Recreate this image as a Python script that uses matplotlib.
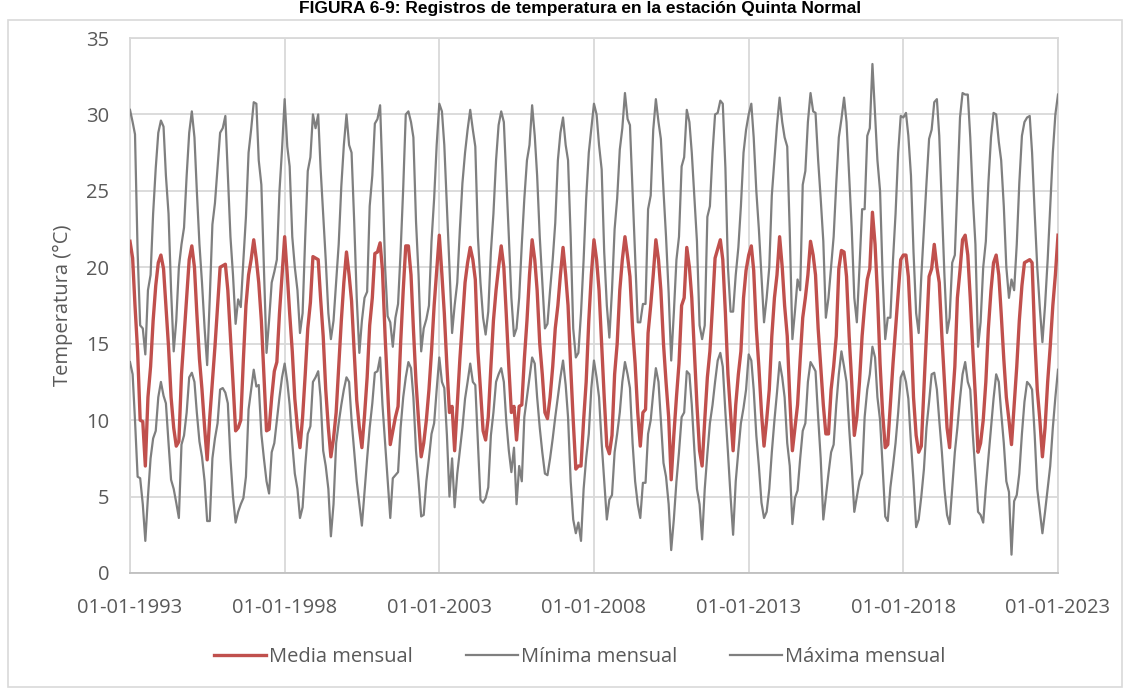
import numpy as np
import pandas as pd
import matplotlib
matplotlib.use("Agg")
import matplotlib.pyplot as plt
import matplotlib.dates as mdates
from matplotlib.patches import Rectangle
from datetime import datetime

# monthly values, one row per year (Jan..Dec), plus Jan 2023
media = [
    [21.7, 20.6, 17.5, 14.5, 10.0, 9.9, 7.0, 11.5, 13.5, 16.5, 18.8, 20.3],  # 1993
    [20.8, 19.9, 17.5, 14.8, 11.5, 9.5, 8.3, 8.6, 13.0, 15.5, 18.0, 20.5],
    [21.4, 20.0, 17.0, 14.0, 12.0, 9.5, 7.4, 10.2, 12.5, 14.8, 17.5, 20.0],
    [20.1, 20.2, 18.5, 15.5, 12.5, 9.3, 9.5, 10.0, 14.0, 17.5, 19.5, 20.5],
    [21.8, 20.5, 19.0, 16.5, 13.0, 9.3, 9.4, 11.5, 13.2, 13.8, 17.0, 19.5],
    [22.0, 19.5, 17.0, 14.5, 11.4, 9.5, 8.2, 10.2, 13.0, 16.0, 17.7, 20.7],  # 1998
    [20.6, 20.5, 18.0, 15.5, 12.0, 9.5, 7.6, 8.8, 10.5, 13.5, 16.5, 19.0],
    [21.0, 19.5, 17.8, 14.5, 11.3, 9.5, 8.2, 10.3, 12.8, 16.2, 18.0, 20.9],
    [21.0, 21.6, 19.8, 15.5, 12.0, 8.4, 9.3, 10.2, 10.9, 15.0, 18.5, 21.4],
    [21.4, 19.5, 16.0, 12.5, 10.0, 7.6, 8.5, 10.0, 12.0, 14.5, 17.5, 19.8],
    [22.1, 19.5, 17.0, 13.5, 10.5, 10.9, 8.0, 11.0, 14.0, 16.5, 19.0, 20.3],  # 2003
    [21.3, 20.5, 19.2, 14.5, 12.0, 9.3, 8.7, 10.2, 13.5, 16.5, 18.5, 20.0],
    [21.4, 20.0, 17.0, 13.5, 10.5, 10.9, 8.7, 10.9, 11.0, 14.0, 16.5, 19.5],
    [21.8, 20.5, 18.5, 15.0, 13.0, 10.5, 10.1, 11.5, 13.5, 16.0, 17.5, 19.5],
    [21.3, 19.5, 17.5, 13.5, 10.0, 6.8, 7.0, 7.0, 10.0, 12.5, 16.5, 19.5],
    [21.8, 20.5, 18.5, 15.0, 11.5, 8.3, 7.8, 9.0, 13.0, 15.0, 18.5, 20.5],  # 2008
    [22.0, 20.7, 19.4, 16.0, 13.7, 10.5, 8.3, 10.5, 10.7, 15.7, 17.5, 19.5],
    [21.8, 20.5, 18.5, 15.0, 12.5, 10.2, 6.1, 9.0, 11.5, 13.7, 17.5, 18.0],
    [21.3, 20.0, 18.0, 14.5, 11.0, 8.0, 7.0, 10.0, 12.8, 14.5, 17.5, 20.6],
    [21.2, 21.8, 20.5, 17.0, 13.0, 10.5, 8.0, 11.0, 13.0, 14.5, 18.0, 19.8],
    [20.8, 21.4, 19.8, 16.0, 13.5, 10.5, 8.3, 10.0, 12.0, 15.5, 18.0, 19.5],  # 2013
    [22.0, 20.0, 17.5, 15.5, 11.5, 8.0, 9.5, 11.0, 14.0, 16.7, 18.0, 19.5],
    [21.7, 20.8, 19.5, 16.0, 13.5, 11.0, 9.1, 9.1, 12.0, 13.5, 15.5, 19.9],
    [21.1, 21.0, 19.4, 15.5, 12.5, 9.0, 10.2, 12.5, 15.5, 17.5, 19.2, 19.9],
    [23.6, 21.5, 18.3, 13.7, 10.5, 8.2, 8.4, 11.0, 13.7, 16.0, 18.3, 20.5],
    [20.8, 20.8, 19.4, 15.8, 11.5, 9.0, 7.9, 8.3, 12.0, 15.5, 19.4, 19.9],  # 2018
    [21.5, 20.0, 19.0, 15.5, 12.5, 9.5, 8.2, 11.0, 13.5, 18.0, 19.8, 21.8],
    [22.1, 20.8, 18.0, 14.5, 11.5, 7.9, 8.5, 10.0, 12.5, 16.0, 18.5, 20.3],
    [20.8, 19.5, 17.0, 14.0, 11.5, 10.0, 8.4, 11.0, 13.5, 16.5, 18.8, 20.3],
    [20.4, 20.5, 20.3, 15.5, 12.0, 10.0, 7.6, 9.5, 12.5, 14.8, 17.5, 19.5],  # 2022
    [22.1],
]

minima = [
    [13.8, 13.0, 10.0, 6.3, 6.2, 4.5, 2.1, 5.0, 7.5, 8.8, 9.3, 11.5],  # 1993
    [12.5, 11.6, 11.1, 8.5, 6.1, 5.5, 4.6, 3.6, 8.4, 9.0, 10.5, 12.8],
    [13.1, 12.5, 10.5, 8.6, 7.6, 6.0, 3.4, 3.4, 7.5, 8.8, 9.8, 12.0],
    [12.1, 11.8, 11.1, 7.5, 5.0, 3.3, 4.0, 4.5, 4.9, 6.3, 10.7, 12.0],
    [13.3, 12.2, 12.3, 9.1, 7.5, 6.0, 5.2, 7.9, 8.5, 10.0, 11.5, 12.8],
    [13.7, 12.5, 11.0, 8.5, 6.5, 5.5, 3.6, 4.3, 7.0, 9.1, 9.6, 12.5],  # 1998
    [12.8, 13.2, 11.5, 8.0, 7.0, 5.5, 2.4, 4.5, 8.5, 9.8, 11.0, 12.0],
    [12.8, 12.5, 10.0, 8.0, 6.0, 4.5, 3.1, 5.3, 7.5, 9.5, 11.1, 13.1],
    [13.2, 14.1, 11.0, 8.5, 6.0, 3.6, 6.2, 6.4, 6.6, 9.5, 11.5, 12.8],
    [13.8, 13.4, 11.5, 8.0, 6.0, 3.7, 3.8, 6.0, 7.5, 9.1, 9.8, 12.0],
    [14.1, 12.5, 12.1, 9.0, 5.0, 7.5, 4.3, 6.5, 8.0, 9.5, 11.4, 12.5],  # 2003
    [13.7, 12.5, 12.3, 8.5, 4.8, 4.6, 4.9, 5.6, 9.0, 10.5, 12.5, 13.0],
    [13.4, 12.5, 10.0, 8.0, 6.6, 8.2, 4.5, 7.0, 6.0, 10.2, 11.5, 12.8],
    [14.1, 13.7, 11.5, 9.5, 7.9, 6.5, 6.4, 7.5, 8.8, 10.2, 11.5, 12.8],
    [13.9, 12.3, 10.2, 6.0, 3.5, 2.6, 3.3, 2.1, 5.5, 7.5, 9.1, 12.1],
    [13.9, 12.8, 11.5, 8.5, 6.0, 3.5, 4.8, 5.1, 7.9, 9.1, 10.5, 12.5],  # 2008
    [13.8, 13.0, 12.1, 8.5, 6.0, 4.5, 3.6, 5.9, 5.9, 9.1, 10.0, 11.8],
    [13.4, 12.5, 10.0, 7.2, 6.3, 4.5, 1.5, 3.5, 6.0, 7.9, 10.2, 10.5],
    [13.2, 13.0, 11.0, 8.0, 5.5, 4.5, 2.2, 5.5, 7.8, 9.8, 11.0, 12.5],
    [13.9, 14.4, 13.5, 10.5, 7.9, 5.0, 2.5, 6.0, 8.0, 9.8, 10.8, 12.0],
    [14.3, 13.9, 12.0, 9.0, 7.0, 4.6, 3.6, 4.0, 5.5, 7.9, 10.0, 11.8],  # 2013
    [13.8, 12.8, 11.5, 8.5, 7.0, 3.2, 4.9, 5.4, 7.5, 9.3, 9.8, 12.5],
    [13.8, 13.5, 13.2, 10.2, 7.5, 3.5, 5.0, 6.5, 7.9, 8.4, 11.0, 13.0],
    [14.5, 13.5, 12.5, 9.5, 7.0, 4.0, 5.0, 6.0, 6.5, 10.2, 12.0, 13.0],
    [14.8, 14.1, 11.5, 10.0, 7.0, 3.7, 3.4, 5.6, 7.0, 8.5, 10.5, 12.8],
    [13.2, 12.5, 11.4, 8.5, 6.0, 3.0, 3.5, 5.0, 6.8, 9.5, 11.2, 13.0],  # 2018
    [13.1, 12.0, 10.0, 7.9, 5.5, 3.8, 3.2, 5.6, 7.9, 9.5, 11.4, 13.0],
    [13.8, 12.5, 12.0, 9.0, 6.5, 4.0, 3.8, 3.3, 5.6, 7.5, 9.5, 11.4],
    [13.0, 12.5, 10.5, 8.5, 6.0, 5.3, 1.2, 4.7, 5.1, 6.5, 9.1, 11.2],
    [12.5, 12.3, 12.0, 9.0, 5.5, 4.0, 2.6, 4.0, 5.5, 7.0, 9.5, 11.5],  # 2022
    [13.3],
]

maxima = [
    [30.3, 29.5, 28.7, 21.0, 16.2, 16.0, 14.3, 18.5, 19.5, 23.5, 26.5, 28.8],  # 1993
    [29.6, 29.2, 26.0, 23.5, 18.5, 14.5, 16.5, 20.0, 21.5, 22.6, 26.0, 28.8],
    [30.2, 28.5, 25.0, 21.5, 19.0, 16.0, 13.6, 18.0, 22.8, 24.2, 26.5, 28.8],
    [29.1, 29.9, 26.0, 22.0, 19.5, 16.3, 17.9, 17.4, 20.5, 23.3, 27.5, 29.0],
    [30.8, 30.7, 27.0, 25.4, 20.0, 14.4, 16.5, 19.0, 19.7, 20.5, 25.0, 27.7],
    [31.0, 27.9, 26.6, 22.0, 20.0, 18.5, 15.7, 17.0, 22.0, 26.3, 27.2, 30.0],  # 1998
    [29.1, 30.0, 26.5, 23.5, 20.5, 17.0, 15.3, 16.5, 19.0, 21.5, 25.3, 28.0],
    [30.0, 28.0, 27.5, 23.0, 18.0, 14.4, 16.5, 18.0, 18.4, 24.0, 26.0, 29.4],
    [29.7, 30.6, 26.0, 20.0, 16.8, 16.4, 14.8, 16.7, 17.6, 21.0, 25.2, 30.0],
    [30.2, 29.5, 28.5, 23.0, 19.5, 14.5, 16.0, 16.6, 17.5, 21.7, 24.5, 28.0],
    [30.7, 30.2, 28.0, 24.0, 20.0, 15.7, 17.5, 19.0, 22.5, 25.5, 27.5, 29.0],  # 2003
    [30.3, 29.0, 27.9, 22.0, 19.0, 16.7, 15.6, 17.1, 21.0, 23.5, 27.0, 29.3],
    [30.2, 29.5, 26.0, 22.0, 18.0, 15.5, 16.0, 18.0, 21.5, 24.5, 27.0, 28.0],
    [30.6, 28.6, 26.0, 22.0, 19.0, 16.0, 16.3, 18.5, 20.5, 22.9, 27.0, 28.8],
    [29.8, 28.0, 27.0, 22.0, 16.0, 14.1, 14.4, 17.0, 20.5, 24.5, 27.5, 29.1],
    [30.7, 30.0, 28.0, 26.4, 21.0, 17.5, 15.4, 18.5, 22.5, 24.5, 27.7, 29.1],  # 2008
    [31.4, 29.7, 29.3, 25.0, 21.0, 16.4, 16.4, 17.6, 17.6, 23.8, 24.7, 29.0],
    [31.0, 29.5, 28.4, 25.0, 22.0, 18.3, 13.9, 17.0, 20.5, 22.0, 26.6, 27.2],
    [30.3, 29.5, 27.5, 24.5, 21.7, 16.2, 15.3, 16.2, 23.3, 24.0, 27.5, 30.0],
    [30.1, 30.9, 30.7, 26.5, 20.0, 17.1, 17.1, 19.5, 21.3, 24.0, 27.5, 29.0],
    [30.0, 30.7, 28.5, 25.0, 22.5, 19.4, 16.4, 18.0, 20.0, 24.7, 27.0, 29.3],  # 2013
    [31.1, 29.5, 28.5, 27.9, 22.3, 15.3, 17.1, 19.2, 18.5, 25.4, 26.3, 29.5],
    [31.4, 30.2, 30.1, 27.0, 24.5, 21.7, 16.7, 18.0, 20.0, 22.0, 25.5, 28.5],
    [29.7, 31.1, 29.5, 26.0, 22.6, 18.0, 16.4, 20.0, 23.8, 23.8, 28.6, 29.1],
    [33.3, 30.0, 27.0, 25.0, 19.5, 15.3, 16.7, 16.7, 20.5, 23.5, 27.5, 29.9],
    [29.8, 30.1, 28.6, 26.0, 21.0, 17.0, 15.7, 19.4, 22.5, 25.5, 28.4, 29.0],  # 2018
    [30.8, 31.0, 28.6, 24.0, 19.5, 15.7, 16.7, 20.3, 20.8, 25.2, 29.8, 31.4],
    [31.3, 31.3, 28.5, 24.5, 21.5, 14.8, 16.4, 20.0, 21.7, 25.5, 28.5, 30.1],
    [30.0, 28.2, 27.0, 24.0, 20.0, 18.0, 19.2, 18.5, 21.5, 25.5, 28.6, 29.5],
    [29.8, 29.9, 27.5, 23.5, 20.0, 17.3, 15.1, 17.5, 20.5, 24.0, 27.5, 30.0],  # 2022
    [31.3],
]

fechas = pd.date_range("1993-01-01", "2023-01-01", freq="MS")
tick_dates = [datetime(y, 1, 1) for y in range(1993, 2024, 5)]

y_media = [v for fila in media for v in fila]
y_min = [v for fila in minima for v in fila]
y_max = [v for fila in maxima for v in fila]

plt.rcParams["font.family"] = ["Open Sans", "DejaVu Sans"]
txt = "#595959"
grid_c = "#D9D9D9"

fig = plt.figure(figsize=(11.3, 6.89), dpi=100)
ax = fig.add_axes([130 / 1130, 1 - 573 / 689, 928 / 1130, 535 / 689])

ax.plot(fechas, y_media, color="#C0504D", lw=2.4, label="Media mensual", zorder=4)
ax.plot(fechas, y_min, color="#7F7F7F", lw=1.6, label="Mínima mensual", zorder=3)
ax.plot(fechas, y_max, color="#7F7F7F", lw=1.6, label="Máxima mensual", zorder=3)

ax.set_xlim(tick_dates[0], tick_dates[-1])
ax.set_ylim(0, 35)
ax.set_yticks(range(0, 36, 5))
ax.set_xticks(tick_dates)
ax.xaxis.set_major_formatter(mdates.DateFormatter("%d-%m-%Y"))
ax.grid(True, color=grid_c, lw=1.3)
ax.set_axisbelow(True)
for s in ax.spines.values():
    s.set_color(grid_c)
    s.set_linewidth(1.3)
ax.spines["bottom"].set_color("#BFBFBF")
ax.tick_params(length=0, labelsize=14.5, colors=txt)
ax.tick_params(axis="x", pad=18)
ax.tick_params(axis="y", pad=15)
ax.set_ylabel("Temperatura (°C)", fontsize=14.5, color=txt)
ax.yaxis.set_label_coords(-0.061, 0.5)

fig.legend(loc="center", bbox_to_anchor=(0.513, 1 - 657 / 689), ncol=3, frameon=False,
           fontsize=14.5, labelcolor=txt, handlelength=2.6, handletextpad=0.15, columnspacing=2.6)

# chart-area border and the figure caption above it
fig.patches.append(Rectangle((8 / 1130, 2 / 689), 1114 / 1130, 667 / 689, transform=fig.transFigure,
                             fill=False, edgecolor=grid_c, lw=1.2))
fig.text(0.513, 1 - 1 / 689, "FIGURA 6-9: Registros de temperatura en la estación Quinta Normal",
         ha="center", va="top", fontsize=12.5, fontweight="bold", family="Liberation Sans")

fig.savefig("out.png", dpi=100)
